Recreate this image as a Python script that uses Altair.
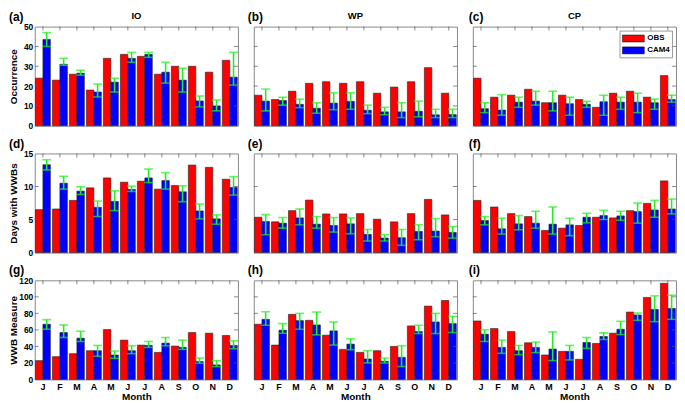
import altair as alt
import pandas as pd

months = ["Jan", "Feb", "Mar", "Apr", "May", "Jun", "Jul", "Aug", "Sep", "Oct", "Nov", "Dec"]
series = ["OBS", "CAM4"]

# (a) IO occurrence
io_occ_obs = [24, 23, 26, 18, 34, 36, 35, 26, 30, 30, 27, 33]
io_occ_cam = [43.5, 31, 26.5, 17, 22, 34, 36, 27, 23, 12.5, 10, 24.5]
io_occ_lo = [40, 30.5, 25.5, 14.5, 17, 32, 34.5, 21.5, 17, 9.5, 7.5, 20.5]
io_occ_hi = [47, 34, 28, 21, 24, 37, 37, 32, 29, 15, 13, 37]
# (b) WP occurrence
wp_occ_obs = [15.4, 13.2, 17.4, 21.4, 22.2, 21.4, 22.2, 16.4, 19.5, 22.2, 29.3, 16.4]
wp_occ_cam = [12.4, 12.7, 10.8, 8.8, 11.4, 12.3, 7.8, 7.0, 7.0, 7.3, 5.5, 5.6]
wp_occ_lo = [7.5, 10.4, 9.1, 6.3, 8.1, 8.3, 6.1, 5.5, 4.1, 4.5, 4.1, 4.1]
wp_occ_hi = [18.5, 14.4, 13.4, 11.6, 16.6, 16.6, 10.4, 9.3, 11.6, 12.4, 8.3, 8.3]
# (c) CP occurrence
cp_occ_obs = [24.0, 14.4, 15.4, 18.4, 11.6, 15.4, 13.2, 9.3, 16.4, 17.4, 14.4, 25.3]
cp_occ_cam = [8.6, 7.9, 11.9, 12.4, 11.6, 11.1, 10.8, 12.1, 11.9, 11.9, 11.6, 13.2]
cp_occ_lo = [6.6, 5.3, 9.3, 10.4, 7.5, 5.3, 9.3, 5.3, 8.3, 6.6, 8.3, 11.9]
cp_occ_hi = [11.6, 15.7, 14.4, 17.4, 17.4, 14.4, 12.3, 15.4, 14.4, 16.4, 13.4, 15.4]
# (d) IO days with WWBs
io_days_obs = [6.5, 6.6, 7.9, 9.8, 11.3, 10.65, 10.8, 9.6, 10.15, 13.25, 12.9, 11.1]
io_days_cam = [13.3, 10.5, 9.3, 6.85, 7.75, 9.55, 11.3, 10.9, 9.2, 6.3, 5.1, 9.85]
io_days_lo = [12.5, 9.6, 8.8, 5.45, 6.35, 9.25, 10.6, 9.6, 7.7, 5.1, 4.3, 8.7]
io_days_hi = [14.05, 11.55, 9.95, 7.8, 9.35, 10.05, 12.65, 12.1, 10.1, 7.35, 5.7, 11.5]
# (e) WP days with WWBs
wp_days_obs = [5.35, 4.65, 6.35, 7.95, 5.85, 5.85, 5.9, 5.05, 4.65, 5.9, 8.05, 5.7]
wp_days_cam = [4.7, 4.45, 5.25, 4.3, 4.1, 4.35, 2.75, 2.2, 2.25, 3.2, 3.25, 3.05]
wp_days_lo = [2.7, 3.7, 4.2, 3.7, 3.1, 2.85, 1.75, 1.75, 1.1, 1.95, 2.4, 2.2]
wp_days_hi = [5.75, 5.3, 6.6, 5.45, 5.3, 5.25, 3.5, 2.7, 3.5, 4.2, 5.15, 3.95]
# (f) CP days with WWBs
cp_days_obs = [7.9, 6.9, 5.9, 5.45, 3.35, 3.7, 4.1, 5.35, 5.25, 6.35, 7.45, 10.85]
cp_days_cam = [4.85, 3.6, 4.35, 4.45, 4.3, 4.2, 5.35, 5.6, 5.55, 6.2, 6.45, 6.6]
cp_days_lo = [4.2, 2.8, 3.45, 3.7, 2.8, 2.55, 4.5, 5.0, 4.9, 4.45, 5.35, 5.85]
cp_days_hi = [5.45, 5.2, 5.6, 6.25, 6.9, 5.2, 5.95, 6.4, 6.25, 7.5, 7.9, 8.1]
# (g) IO WWB measure
io_wwb_obs = [22.8, 27.6, 31.2, 34.8, 60.4, 47.6, 41.6, 32.8, 40.4, 56.8, 56, 53.2]
io_wwb_cam = [66.8, 56.8, 50, 34.8, 29.6, 34.8, 41.2, 44, 38.8, 21.6, 17.6, 41.2]
io_wwb_lo = [60.8, 50.8, 46, 28, 25.6, 31.2, 38.8, 40.8, 36.4, 19.6, 15.6, 37.2]
io_wwb_hi = [72.4, 66, 58.4, 41.2, 34.4, 40.8, 46, 50.8, 47.6, 26, 22.8, 46.8]
# (h) WP WWB measure
wp_wwb_obs = [66.8, 41.6, 78.8, 71.6, 53.6, 36.4, 32.8, 34.8, 40, 64.8, 88.8, 95.6]
wp_wwb_cam = [72.8, 59.6, 71.2, 66, 58.8, 42.8, 24.8, 22, 26.8, 58, 69.6, 67.6]
wp_wwb_lo = [65.6, 56, 60.8, 54, 41.6, 36, 20, 20, 15.6, 55.6, 55.6, 56.8]
wp_wwb_hi = [82, 67.6, 80, 81.6, 69.6, 49.2, 34.8, 26, 40.8, 65.6, 80, 76.4]
# (i) CP WWB measure
cp_wwb_obs = [70.8, 61.6, 58, 44.4, 29.6, 34, 24.4, 43.6, 56, 81.6, 99.2, 116.4]
cp_wwb_cam = [54.8, 38.8, 34.8, 38.8, 36.8, 34, 44.8, 52, 60.8, 78, 84.8, 86]
cp_wwb_lo = [46, 31.6, 30, 32.4, 22.8, 23.6, 37.6, 48.4, 54.4, 71.6, 70, 72.8]
cp_wwb_hi = [60, 47.6, 41.2, 45.2, 57.6, 41.2, 50.8, 56.4, 70.4, 80.4, 101.2, 102]

regions = ["IO", "WP", "CP"]
letters = ["(a)", "(b)", "(c)", "(d)", "(e)", "(f)", "(g)", "(h)", "(i)"]
row_titles = ["Occurrence", "Days with WWBs", "WWB Measure"]
row_max = [50, 15, 120]
row_ticks = [[10, 20, 30, 40], [5, 10], [20, 40, 60, 80, 100]]
row_labels = [[0, 10, 20, 30, 40, 50], [0, 5, 10, 15], [0, 20, 40, 60, 80, 100, 120]]

panels = [
    (io_occ_obs, io_occ_cam, io_occ_lo, io_occ_hi),
    (wp_occ_obs, wp_occ_cam, wp_occ_lo, wp_occ_hi),
    (cp_occ_obs, cp_occ_cam, cp_occ_lo, cp_occ_hi),
    (io_days_obs, io_days_cam, io_days_lo, io_days_hi),
    (wp_days_obs, wp_days_cam, wp_days_lo, wp_days_hi),
    (cp_days_obs, cp_days_cam, cp_days_lo, cp_days_hi),
    (io_wwb_obs, io_wwb_cam, io_wwb_lo, io_wwb_hi),
    (wp_wwb_obs, wp_wwb_cam, wp_wwb_lo, wp_wwb_hi),
    (cp_wwb_obs, cp_wwb_cam, cp_wwb_lo, cp_wwb_hi),
]

W, H = 205, 100
GREEN = "#22ee22"
TICKC = "#555555"
FONT = "Liberation Sans"

charts = []
for idx, (obs, cam, lo, hi) in enumerate(panels):
    row, col = divmod(idx, 3)
    bars_df = pd.DataFrame({
        "month": months * 2,
        "series": ["OBS"] * 12 + ["CAM4"] * 12,
        "value": list(obs) + list(cam),
    })
    err_df = pd.DataFrame({"month": months, "series": ["CAM4"] * 12, "lo": lo, "hi": hi})
    ytick_df = pd.DataFrame({"v": row_ticks[row]})
    xtick_df = pd.DataFrame({"month": months})

    xscale = alt.Scale(domain=months, paddingInner=0.12, paddingOuter=0.04)
    yscale = alt.Scale(domain=[0, row_max[row]], nice=False, zero=True)

    if col == 0:
        yaxis = alt.Axis(values=row_labels[row], ticks=False, domain=False, grid=False,
                         labelFontSize=8.5, labelFontWeight="bold", labelColor="black",
                         labelPadding=2, title=row_titles[row], titleFontSize=10,
                         titleFontWeight="bold", titleColor="black", titlePadding=0,
                         minExtent=16, maxExtent=16)
    else:
        yaxis = None
    if row == 2:
        xaxis = alt.Axis(title="Month", labelExpr="slice(datum.value, 0, 1)", ticks=False,
                         domain=False, labelAngle=0, labelFontSize=9, labelFontWeight="bold",
                         labelColor="black", labelPadding=3, titleFontSize=10,
                         titleFontWeight="bold", titleColor="black", titlePadding=0)
    else:
        xaxis = None

    def X():
        return alt.X("month:N", scale=xscale, axis=xaxis, sort=months)

    xoff = alt.XOffset("series:N", scale=alt.Scale(domain=series, paddingInner=0, paddingOuter=0))

    if idx == 2:
        legend = alt.Legend(orient="top-right", title=None, offset=4, padding=2,
                            strokeColor="#999999", fillColor="white",
                            symbolType="M-2,-0.64H2V0.64H-2Z", symbolSize=121,
                            symbolOffset=6, symbolStrokeColor="black", symbolStrokeWidth=0.5,
                            labelFontSize=8, labelFontWeight="bold", labelColor="black",
                            labelOffset=8, rowPadding=1, cornerRadius=0)
    else:
        legend = None

    bars = alt.Chart(bars_df).mark_bar(stroke="#222222", strokeWidth=0.6).encode(
        x=X(),
        xOffset=xoff,
        y=alt.Y("value:Q", scale=yscale, axis=yaxis),
        color=alt.Color("series:N", scale=alt.Scale(domain=series, range=["#ff0000", "#0000ff"]),
                        legend=legend),
    )
    rule = alt.Chart(err_df).mark_rule(color=GREEN, strokeWidth=1.6).encode(
        x=X(), xOffset=xoff,
        y=alt.Y("lo:Q", scale=yscale, axis=yaxis), y2="hi:Q",
    )
    cap_lo = alt.Chart(err_df).mark_tick(color=GREEN, thickness=1.6, size=9, orient="horizontal").encode(
        x=X(), xOffset=xoff, y=alt.Y("lo:Q", scale=yscale, axis=yaxis),
    )
    cap_hi = alt.Chart(err_df).mark_tick(color=GREEN, thickness=1.6, size=9, orient="horizontal").encode(
        x=X(), xOffset=xoff, y=alt.Y("hi:Q", scale=yscale, axis=yaxis),
    )
    ytl = alt.Chart(ytick_df).mark_tick(color=TICKC, thickness=1, size=4, orient="horizontal").encode(
        y=alt.Y("v:Q", scale=yscale, axis=yaxis), x=alt.value(2),
    )
    ytr = alt.Chart(ytick_df).mark_tick(color=TICKC, thickness=1, size=4, orient="horizontal").encode(
        y=alt.Y("v:Q", scale=yscale, axis=yaxis), x=alt.value(W - 2),
    )
    xtt = alt.Chart(xtick_df).mark_tick(color=TICKC, thickness=1, size=4, orient="vertical").encode(
        x=X(), y=alt.value(2),
    )
    xtb = alt.Chart(xtick_df).mark_tick(color=TICKC, thickness=1, size=4, orient="vertical").encode(
        x=X(), y=alt.value(H - 2),
    )
    dx = -26 if col == 0 else (-6 if col == 1 else -4)
    letter = alt.Chart(pd.DataFrame({"t": [letters[idx]]})).mark_text(
        fontSize=12, fontWeight="bold", baseline="alphabetic", align="left", color="black"
    ).encode(text="t:N", x=alt.value(dx), y=alt.value(-6))
    layers = [bars, rule, cap_lo, cap_hi, ytl, ytr, xtt, xtb, letter]
    if row == 0:
        name = alt.Chart(pd.DataFrame({"t": [regions[col]]})).mark_text(
            fontSize=9.5, fontWeight="bold", baseline="alphabetic", color="black"
        ).encode(text="t:N", x=alt.value(W / 2), y=alt.value(-8))
        layers.append(name)

    ch = alt.layer(*layers).properties(width=W, height=H)
    charts.append(ch)

chart = alt.concat(*charts, columns=3, spacing={"row": 28, "column": 16}, bounds="flush").resolve_scale(
    y="independent", color="independent"
).resolve_legend(color="independent").properties(padding=0).configure(
    font=FONT
).configure_view(stroke="#888888", strokeWidth=1)

chart.save("out.html", embed_options={"renderer": "svg", "actions": False})
